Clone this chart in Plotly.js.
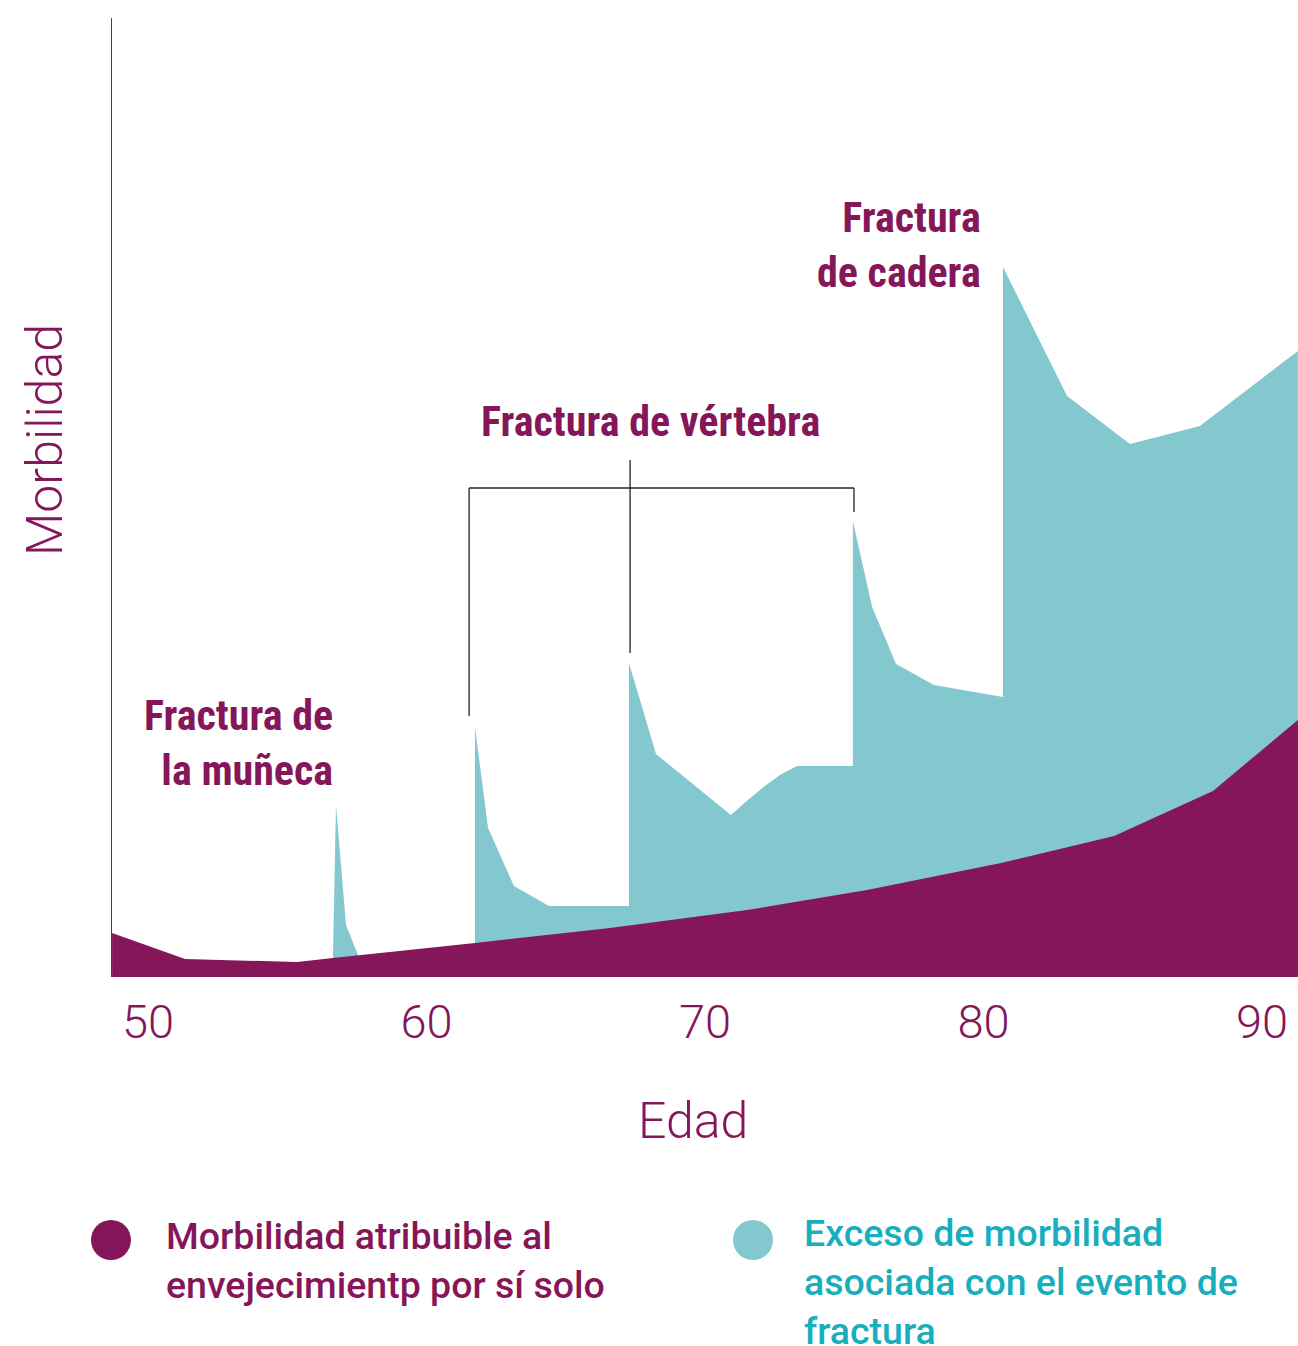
<!DOCTYPE html>
<html>
<head>
<meta charset="utf-8">
<script src="https://cdn.plot.ly/plotly-3.0.1.min.js"></script>
<style>
  html, body { margin: 0; padding: 0; background: #ffffff; }
  #chart { width: 1298px; height: 1346px; }
</style>
</head>
<body>
<div id="chart"></div>
<script>
// ---------- Data ----------
// Age axis
const ageTicks = [50, 60, 70, 80, 90];
const ageTickLabels = ['50', '60', '70', '80', '90'];

// Morbidity attributable to ageing alone (purple area), arbitrary morbidity index
const agingAges = [48.71, 51.33, 55.35, 56.64, 61.74, 66.59, 71.51, 75.82, 80.63, 84.69, 88.24, 91.29];
const agingMorb = [4.59, 1.88, 1.56, 1.98, 3.55, 5.11, 6.99, 9.07, 11.89, 14.70, 19.40, 26.80];

// Total morbidity (ageing + excess after fracture), wrist fracture episode
const wristAges  = [56.64, 56.75, 57.11, 57.54];
const wristTotal = [1.98, 17.94, 5.42, 2.29];

// Total morbidity (ageing + excess), vertebral fractures followed by hip fracture
const laterAges  = [61.74, 61.74, 62.21, 63.14, 64.40, 67.27, 67.27, 68.24, 70.93, 71.54, 72.15, 72.69, 73.30, 75.31, 75.31, 76.00, 76.86, 78.22, 80.70, 80.70, 83.00, 85.26, 87.77, 91.29];
const laterTotal = [3.55, 26.07, 15.54, 9.49, 7.40, 7.40, 32.74, 23.25, 16.89, 18.46, 19.92, 21.06, 22.00, 22.00, 47.55, 38.58, 32.64, 30.45, 29.20, 74.04, 60.58, 55.58, 57.46, 65.28];

// Event labels
const eventLabels = ['Fractura de<br>la muñeca', 'Fractura de vértebra', 'Fractura<br>de cadera'];
const axisTitles = { x: 'Edad', y: 'Morbilidad' };
const legendLabels = ['Morbilidad atribuible al<br>envejecimientp por sí solo',
                      'Exceso de morbilidad<br>asociada con el evento de<br>fractura'];

// ---------- Style ----------
const PURPLE = '#86165A';
const TEAL_FILL = '#83C8CE';
const TEAL_TEXT = '#17AEBE';

// pick a narrow font that is actually installed
function pickFont(cands, fallback) {
  const c = document.createElement('canvas').getContext('2d');
  const s = 'Fractura de vértebra 0123456789';
  c.font = '40px monospace';
  const wm = c.measureText(s).width;
  c.font = '40px serif';
  const ws = c.measureText(s).width;
  for (const f of cands) {
    c.font = '40px "' + f + '", monospace';
    const w1 = c.measureText(s).width;
    c.font = '40px "' + f + '", serif';
    const w2 = c.measureText(s).width;
    if (w1 !== wm || w2 !== ws) return f;
  }
  return fallback;
}
const NARROW = pickFont(['Roboto Condensed', 'Liberation Sans Narrow', 'DejaVu Sans Condensed', 'Arial Narrow'], 'Liberation Sans');
const FONT = NARROW + ', Liberation Sans, sans-serif';
const REG = 'Roboto, Liberation Sans, sans-serif';

const traces = [
  { x: wristAges, y: wristTotal, type: 'scatter', mode: 'lines', fill: 'tozeroy',
    fillcolor: TEAL_FILL, line: { width: 0, color: TEAL_FILL }, hoverinfo: 'skip', showlegend: false },
  { x: laterAges, y: laterTotal, type: 'scatter', mode: 'lines', fill: 'tozeroy',
    fillcolor: TEAL_FILL, line: { width: 0, color: TEAL_FILL }, hoverinfo: 'skip', showlegend: false },
  { x: agingAges, y: agingMorb, type: 'scatter', mode: 'lines', fill: 'tozeroy',
    fillcolor: PURPLE, line: { width: 0, color: PURPLE }, hoverinfo: 'skip', showlegend: false }
];

const bracket = { color: '#222222', width: 1.3 };
const layout = {
  width: 1298, height: 1346,
  margin: { l: 112, r: 0, t: 18, b: 369 },
  paper_bgcolor: '#ffffff', plot_bgcolor: '#ffffff',
  showlegend: false,
  xaxis: {
    range: [48.707, 91.293], tickvals: ageTicks, ticktext: ageTickLabels,
    ticks: '', showgrid: false, zeroline: false, showline: false,
    tickfont: { family: REG, size: 47, color: PURPLE, weight: 300 },
    ticklabelstandoff: 13, fixedrange: true
  },
  yaxis: {
    range: [0, 100], showticklabels: false, ticks: '', showgrid: false, zeroline: false,
    showline: true, linecolor: '#444444', linewidth: 1, fixedrange: true
  },
  shapes: [
    { type: 'line', xref: 'x', yref: 'y', x0: 61.53, x1: 75.35, y0: 50.99, y1: 50.99, line: bracket },
    { type: 'line', xref: 'x', yref: 'y', x0: 61.53, x1: 61.53, y0: 50.99, y1: 27.22, line: bracket },
    { type: 'line', xref: 'x', yref: 'y', x0: 67.31, x1: 67.31, y0: 53.91, y1: 33.79, line: bracket },
    { type: 'line', xref: 'x', yref: 'y', x0: 75.35, x1: 75.35, y0: 50.99, y1: 48.49, line: bracket },
    { type: 'circle', xref: 'paper', yref: 'paper', x0: -0.0177, x1: 0.0160, y0: -0.2951, y1: -0.2534,
      fillcolor: PURPLE, line: { width: 0 } },
    { type: 'circle', xref: 'paper', yref: 'paper', x0: 0.5236, x1: 0.5573, y0: -0.2951, y1: -0.2534,
      fillcolor: TEAL_FILL, line: { width: 0 } }
  ],
  annotations: [
    { text: '<b>' + eventLabels[0] + '</b>', xref: 'x', yref: 'y', x: 56.72, y: 24.40,
      xanchor: 'right', yanchor: 'middle', align: 'right', showarrow: false,
      font: { family: FONT, size: 42, color: PURPLE } },
    { text: '<b>' + eventLabels[1] + '</b>', xref: 'x', yref: 'y', x: 68.06, y: 57.92,
      xanchor: 'center', yanchor: 'middle', align: 'center', showarrow: false,
      font: { family: FONT, size: 42, color: PURPLE } },
    { text: '<b>' + eventLabels[2] + '</b>', xref: 'x', yref: 'y', x: 79.98, y: 76.33,
      xanchor: 'right', yanchor: 'middle', align: 'right', showarrow: false,
      font: { family: FONT, size: 42, color: PURPLE } },
    { text: axisTitles.x, xref: 'paper', yref: 'paper', x: 0.4899, y: -0.1502,
      xanchor: 'center', yanchor: 'middle', showarrow: false,
      font: { family: REG, size: 50, color: PURPLE, weight: 300 } },
    { text: axisTitles.y, xref: 'paper', yref: 'paper', x: -0.0565, y: 0.560, textangle: -90,
      xanchor: 'center', yanchor: 'middle', showarrow: false,
      font: { family: REG, size: 50, color: PURPLE, weight: 300 } },
    { text: legendLabels[0], xref: 'paper', yref: 'paper', x: 0.0439, y: -0.2951,
      xanchor: 'left', yanchor: 'middle', align: 'left', showarrow: false,
      font: { family: REG, size: 37.5, color: PURPLE, weight: 500 } },
    { text: legendLabels[1], xref: 'paper', yref: 'paper', x: 0.5818, y: -0.3180,
      xanchor: 'left', yanchor: 'middle', align: 'left', showarrow: false,
      font: { family: REG, size: 37.5, color: TEAL_TEXT, weight: 500 } }
  ]
};

Plotly.newPlot('chart', traces, layout, { staticPlot: true, displayModeBar: false });
</script>
</body>
</html>
